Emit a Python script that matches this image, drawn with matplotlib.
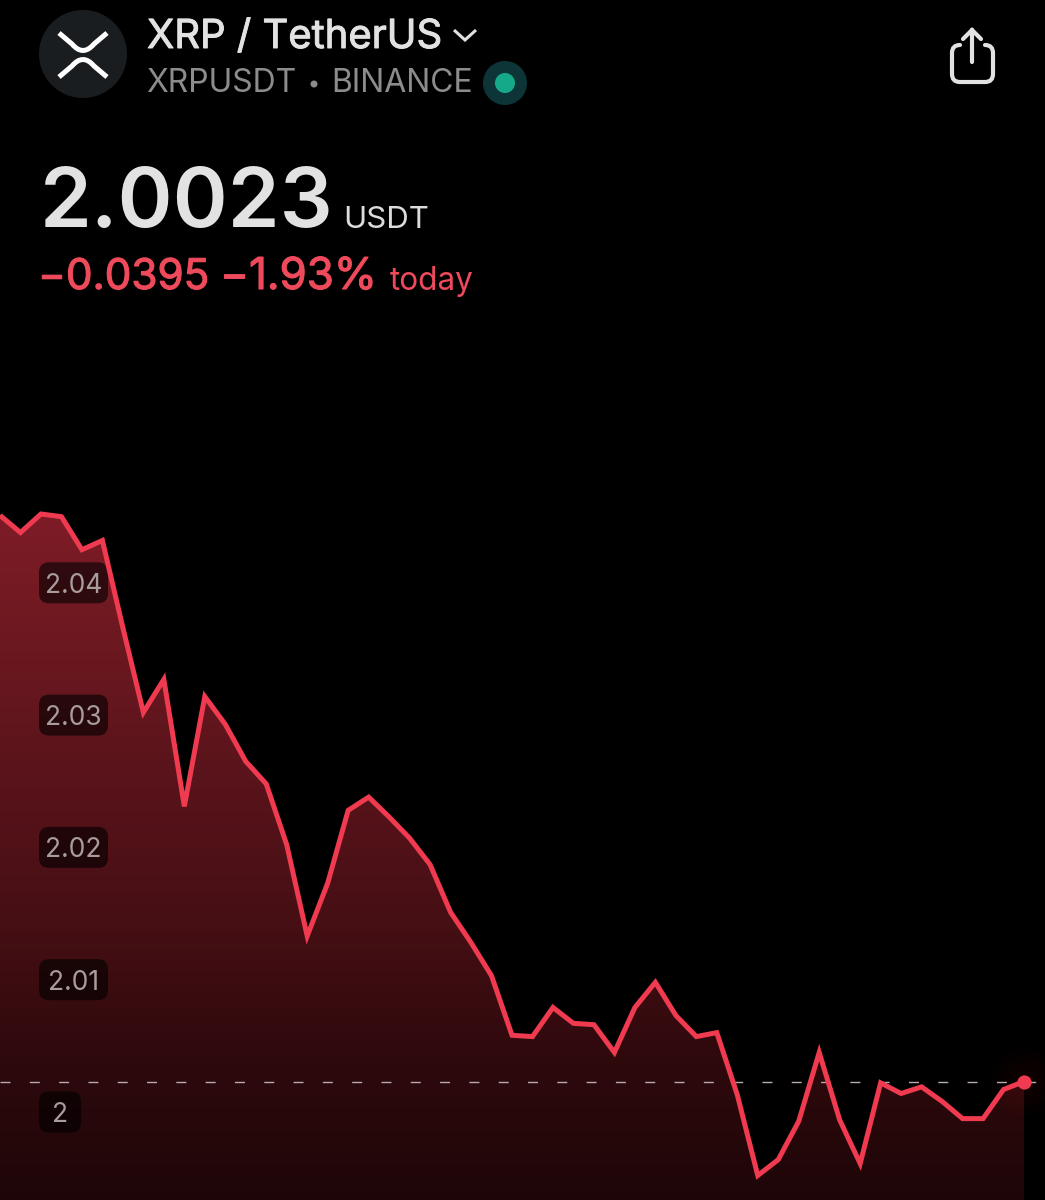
import numpy as np
from matplotlib import pyplot as plt
from matplotlib import colors
from matplotlib import patheffects
from matplotlib.patches import Circle, FancyBboxPatch, PathPatch
from matplotlib.path import Path
from matplotlib.transforms import Affine2D, blended_transform_factory

plt.rcParams['font.family'] = ['Inter', 'DejaVu Sans']

prices = [2.0451, 2.0438, 2.0452, 2.0450, 2.0425, 2.0432, 2.0366, 2.0302, 2.0327, 2.0231,
          2.0314, 2.0293, 2.0265, 2.0248, 2.0202, 2.0133, 2.0173, 2.0228, 2.0238, 2.0223,
          2.0207, 2.0187, 2.0151, 2.0128, 2.0103, 2.0058, 2.0057, 2.0079, 2.0067, 2.0066,
          2.0045, 2.0079, 2.0098, 2.0073, 2.0057, 2.0060, 2.0013, 1.9952, 1.9964, 1.9993,
          2.0045, 1.9994, 1.9961, 2.0022, 2.0014, 2.0019, 2.0008, 1.9995, 1.9995, 2.0017,
          2.0023]
y_ticks = [2.04, 2.03, 2.02, 2.01, 2.0]
y_tick_labels = ['2.04', '2.03', '2.02', '2.01', '2']
last_price = prices[-1]

RED = '#f03a50'
SOFT_RED = '#ee4a5c'
WIDTH, HEIGHT = 1045, 1200

fig = plt.figure(figsize=(WIDTH / 100, HEIGHT / 100), dpi=100, facecolor='black')
ax = fig.add_axes([0, 0, 1, 1])
ax.set_facecolor('black')
ax.axis('off')

xs = np.arange(len(prices))

# pixels from the top left corner, for the app chrome
px = Affine2D().scale(1, -1).translate(0, HEIGHT)

# gradient under the line
ramp = colors.LinearSegmentedColormap.from_list(
    'ramp', ['#1e0608', '#2e090c', '#450f14', '#58131a', '#6b1820', '#7e1c26'])
gradient = np.linspace(0, 1, 256).reshape(-1, 1)
area = ax.fill_between(xs, prices, 1.98, facecolor='none', linewidth=0)
im = ax.imshow(gradient, cmap=ramp, origin='lower', aspect='auto',
               extent=(xs[0], xs[-1], 1.9933, max(prices)), zorder=1)
im.set_clip_path(area.get_paths()[0], transform=ax.transData)

ax.set_xlim(0, 50 + 21 / 20.48)
ax.set_ylim(2 - 88 / 13230, 2 + 1112 / 13230)

# soft glow round the last point
for radius in np.arange(14, 38, 2):
    ax.scatter(xs[-1], last_price, s=(2 * radius * 0.72) ** 2, color=RED, alpha=0.009,
               linewidths=0, zorder=2)

ax.axhline(last_price, color='#b8aaaa', lw=1, ls=(0, (7.2, 13.9)), zorder=3,
           dash_capstyle='butt')

# price labels
label_x = blended_transform_factory(px, ax.transData)
for value, label in zip(y_ticks, y_tick_labels):
    width = 69 if len(label) > 1 else 42
    y_px = HEIGHT - ax.transData.transform((0, value))[1]
    ax.add_patch(FancyBboxPatch((39 + 10, y_px - 20.5 + 10), width - 20, 41 - 20,
                                boxstyle='round,pad=10,rounding_size=10', transform=px,
                                fc='black', ec='none', alpha=0.6, zorder=4))
    ax.text(39 + width / 2, value, label, transform=label_x, ha='center', va='center_baseline',
            fontsize=19, color='#a89c9c', zorder=5)

ax.plot(xs, prices, color=RED, lw=3.6, solid_joinstyle='miter', solid_capstyle='butt', zorder=6)
ax.scatter(xs[-1], last_price, s=105, color=RED, linewidths=0, zorder=7)

# header
ax.add_patch(Circle((83, 54), 44, transform=px, fc='#1a1d20', ec='none', zorder=8))
top_arc = Path([(59, 33), (72, 44), (83, 57), (94, 44), (107, 33)],
               [Path.MOVETO, Path.LINETO, Path.CURVE3, Path.CURVE3, Path.LINETO])
low_arc = Path([(59, 77), (72, 66), (83, 53), (94, 66), (107, 77)],
               [Path.MOVETO, Path.LINETO, Path.CURVE3, Path.CURVE3, Path.LINETO])
for arc in (top_arc, low_arc):
    ax.add_patch(PathPatch(arc, transform=px, fc='none', ec='white', lw=3.6, zorder=9))

fatten = [patheffects.withStroke(linewidth=0.7, foreground='#e2e2e2')]
title = ax.text(147, 48, 'XRP / TetherUS', transform=px, fontsize=28.8, color='#e2e2e2',
                va='baseline', zorder=9)
title.set_path_effects(fatten)
chevron = Path([(454, 30), (465, 40), (476, 30)], [Path.MOVETO, Path.LINETO, Path.LINETO])
ax.add_patch(PathPatch(chevron, transform=px, fc='none', ec='#e0e0e0', lw=2.2, zorder=9))

ax.text(146, 92, 'XRPUSDT', transform=px, fontsize=23, color='#8c8c8c', va='baseline', zorder=9)
ax.add_patch(Circle((314, 84), 3.5, transform=px, fc='#8c8c8c', ec='none', zorder=9))
ax.text(331, 92, 'BINANCE', transform=px, fontsize=23, color='#8c8c8c', va='baseline', zorder=9)
ax.add_patch(Circle((505, 83), 22, transform=px, fc='#0d3538', ec='none', zorder=9))
ax.add_patch(Circle((505, 83), 10, transform=px, fc='#15a98a', ec='none', zorder=10))

ax.text(40, 227, '2.0023', transform=px, fontsize=60, color='#e2e2e2', fontweight='semibold',
        va='baseline', zorder=9)
ax.text(343, 228, 'USDT', transform=px, fontsize=22.5, color='#dcdcdc', va='baseline', zorder=9)
for x, label, size in [(38, '\u22120.0395', 30.4), (220, '\u22121.93%', 31.6)]:
    change = ax.text(x, 289, label, transform=px, fontsize=size, color=SOFT_RED, va='baseline', zorder=9)
    change.set_path_effects([patheffects.withStroke(linewidth=0.8, foreground=SOFT_RED)])
ax.text(390, 290, 'today', transform=px, fontsize=22.7, color=SOFT_RED, va='baseline', zorder=9)

# share icon
box = Path([(960, 45), (952, 45), (952, 53), (952, 74), (952, 82), (960, 82), (985, 82),
            (993, 82), (993, 74), (993, 53), (993, 45), (985, 45)],
           [Path.MOVETO, Path.CURVE3, Path.CURVE3, Path.LINETO, Path.CURVE3, Path.CURVE3,
            Path.LINETO, Path.CURVE3, Path.CURVE3, Path.LINETO, Path.CURVE3, Path.CURVE3])
arrow = Path([(972, 62), (972, 30), (963, 39), (972, 30), (981, 39)],
             [Path.MOVETO, Path.LINETO, Path.MOVETO, Path.LINETO, Path.LINETO])
for shape in (box, arrow):
    ax.add_patch(PathPatch(shape, transform=px, fc='none', ec='#e2e2e2', lw=3,
                           capstyle='round', zorder=9))

fig.savefig('out.png', dpi=100, facecolor='black')
